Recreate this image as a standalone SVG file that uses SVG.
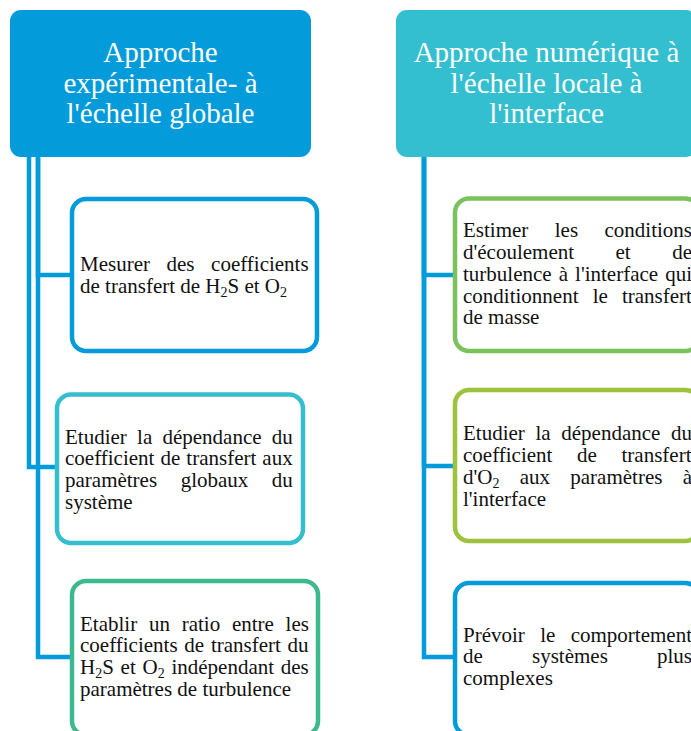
<svg xmlns="http://www.w3.org/2000/svg" width="691" height="731" viewBox="0 0 691 731">
<style>
.hdr{font-family:"Liberation Serif","Times New Roman",serif;font-size:29px;fill:#fff;text-anchor:middle}
.t{font-family:"Liberation Serif","Times New Roman",serif;font-size:21px;fill:#111;font-variant-ligatures:none}
.sub{font-size:14px}
.box{fill:#fff;stroke-width:4.5}
.con{fill:none;stroke:#039BD9;stroke-width:4.5}
</style>
<rect width="691" height="731" fill="#fff"/>
<g id="connectors">
<path class="con" d="M38,157 V275 H72"/>
<path class="con" d="M29,157 V467 H57"/>
<path class="con" d="M38,157 V657 H72"/>
<path class="con" d="M424,157 V275 H455"/>
<path class="con" d="M424,157 V466 H455"/>
<path class="con" d="M424,157 V657 H455"/>
</g>
<g id="header-left">
<rect x="10" y="10" width="301" height="147" rx="11" fill="#039BD9"/>
<text class="hdr" x="160.5" y="62">Approche</text>
<text class="hdr" x="160.5" y="93">expérimentale- à</text>
<text class="hdr" x="160.5" y="123">l'échelle globale</text>
</g>
<g id="header-right">
<rect x="396" y="10" width="301" height="147" rx="11" fill="#33BFCF"/>
<text class="hdr" x="546.5" y="62">Approche numérique à</text>
<text class="hdr" x="546.5" y="93">l'échelle locale à</text>
<text class="hdr" x="546.5" y="123">l'interface</text>
</g>
<g id="box1">
<rect class="box" x="72" y="199" width="245" height="152" rx="14" stroke="#039BD9"/>
<text class="t" x="80" y="271" style="word-spacing:11.3px">Mesurer des coefficients</text>
<text class="t" x="80" y="292.5">de transfert de H<tspan class="sub" dy="4">2</tspan><tspan dy="-4">S et O</tspan><tspan class="sub" dy="4">2</tspan></text>
</g>
<g id="box2">
<rect class="box" x="57" y="394.5" width="246" height="148.5" rx="14" stroke="#36BECE"/>
<text class="t" x="65" y="443.5" style="word-spacing:5px">Etudier la dépendance du</text>
<text class="t" x="65" y="465.2" style="word-spacing:0.8px">coefficient de transfert aux</text>
<text class="t" x="65" y="487" style="word-spacing:18.3px">paramètres globaux du</text>
<text class="t" x="65" y="508.7">système</text>
</g>
<g id="box3">
<rect class="box" x="72" y="581" width="246" height="154" rx="14" stroke="#3DBA8D"/>
<text class="t" x="80" y="630.7" style="word-spacing:6.5px">Etablir un ratio entre les</text>
<text class="t" x="80" y="652.4" style="word-spacing:1.5px">coefficients de transfert du</text>
<text class="t" x="80" y="674.1" style="word-spacing:1.5px">H<tspan class="sub" dy="4">2</tspan><tspan dy="-4">S et O</tspan><tspan class="sub" dy="4">2</tspan><tspan dy="-4"> indépendant des</tspan></text>
<text class="t" x="80" y="695.8">paramètres de turbulence</text>
</g>
<g id="box4">
<rect class="box" x="455" y="198.5" width="244" height="152.5" rx="14" stroke="#7AC25C"/>
<text class="t" x="463" y="237.3" style="word-spacing:21.2px">Estimer les conditions</text>
<text class="t" x="463" y="259" style="word-spacing:36.2px">d'écoulement et de</text>
<text class="t" x="463" y="280.8" style="word-spacing:1.8px">turbulence à l'interface qui</text>
<text class="t" x="463" y="302.6" style="word-spacing:8.9px">conditionnent le transfert</text>
<text class="t" x="463" y="324.4">de masse</text>
</g>
<g id="box5">
<rect class="box" x="455" y="390" width="244" height="151" rx="14" stroke="#9DC23B"/>
<text class="t" x="463" y="440" style="word-spacing:5.4px">Etudier la dépendance du</text>
<text class="t" x="463" y="461.8" style="word-spacing:19.4px">coefficient de transfert</text>
<text class="t" x="463" y="483.6" style="word-spacing:15px">d'O<tspan class="sub" dy="4">2</tspan><tspan dy="-4"> aux paramètres à</tspan></text>
<text class="t" x="463" y="505.5">l'interface</text>
</g>
<g id="box6">
<rect class="box" x="455" y="583" width="244" height="152" rx="14" stroke="#039BD9"/>
<text class="t" x="463" y="641.7" style="word-spacing:10.1px">Prévoir le comportement</text>
<text class="t" x="463" y="663.4" style="word-spacing:43.9px">de systèmes plus</text>
<text class="t" x="463" y="685.2">complexes</text>
</g>
</svg>
